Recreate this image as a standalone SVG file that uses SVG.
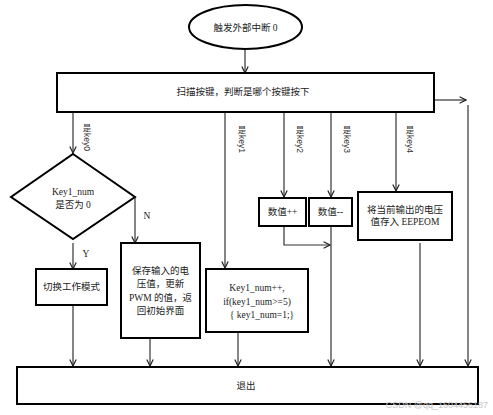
<svg xmlns="http://www.w3.org/2000/svg" width="493" height="415" viewBox="0 0 493 415">
<style>
.box{fill:#fff;stroke:#000;stroke-width:2}
.ln{fill:none;stroke:#333;stroke-width:1.2}
.t{font-family:"Liberation Serif","Noto Sans CJK SC",serif;font-size:9.5px;fill:#222;text-anchor:middle}
.lab{font-family:"Liberation Sans","Noto Sans CJK SC",sans-serif;font-size:8.5px;fill:#333}
.shi{text-anchor:middle}
</style>
<defs>
<marker id="arr" viewBox="0 0 10 10" refX="9" refY="5" markerWidth="8" markerHeight="8" orient="auto" markerUnits="userSpaceOnUse">
<path d="M1,1 L9,5 L1,9" fill="none" stroke="#222" stroke-width="1.5"/>
</marker>
</defs>
<rect width="493" height="415" fill="#fff"/>
<g id="connectors">
<line class="ln" x1="245" y1="49" x2="245" y2="73" marker-end="url(#arr)"/>
<line class="ln" x1="434" y1="100" x2="466" y2="100" marker-end="url(#arr)"/>
<line class="ln" x1="468" y1="105" x2="468" y2="366" marker-end="url(#arr)"/>
<line class="ln" x1="73" y1="112" x2="73" y2="153" marker-end="url(#arr)"/>
<polyline class="ln" points="135,197 135,243" marker-end="url(#arr)"/>
<line class="ln" x1="73" y1="243" x2="73" y2="269" marker-end="url(#arr)"/>
<line class="ln" x1="73" y1="305" x2="73" y2="366" marker-end="url(#arr)"/>
<line class="ln" x1="150" y1="338" x2="150" y2="366" marker-end="url(#arr)"/>
<line class="ln" x1="225" y1="112" x2="225" y2="268" marker-end="url(#arr)"/>
<line class="ln" x1="238" y1="332" x2="238" y2="366" marker-end="url(#arr)"/>
<line class="ln" x1="284" y1="112" x2="284" y2="197" marker-end="url(#arr)"/>
<polyline class="ln" points="284,226 284,245 330,245" marker-end="url(#arr)"/>
<line class="ln" x1="331" y1="112" x2="331" y2="197" marker-end="url(#arr)"/>
<line class="ln" x1="331" y1="226" x2="331" y2="366" marker-end="url(#arr)"/>
<line class="ln" x1="396" y1="112" x2="396" y2="191" marker-end="url(#arr)"/>
<line class="ln" x1="420" y1="243" x2="420" y2="366" marker-end="url(#arr)"/>
<g class="lab">
<text class="shi" x="87" y="131">是</text>
<text transform="translate(84,133) rotate(90)">key0</text>
<text class="shi" x="242" y="133">是</text>
<text transform="translate(239,135) rotate(90)">key1</text>
<text class="shi" x="300" y="133">是</text>
<text transform="translate(297,135) rotate(90)">key2</text>
<text class="shi" x="347" y="133">是</text>
<text transform="translate(344,135) rotate(90)">key3</text>
<text class="shi" x="410" y="133">是</text>
<text transform="translate(407,135) rotate(90)">key4</text>
</g>
<text class="t" x="147" y="219">N</text>
<text class="t" x="86" y="257">Y</text>
</g>
<g id="start">
<ellipse class="box" cx="245.5" cy="27" rx="56.5" ry="22"/>
<text class="t" x="245.5" y="31">触发外部中断 0</text>
</g>
<g id="scan">
<rect class="box" x="57" y="73" width="377" height="39"/>
<text class="t" x="243" y="95">扫描按键，判断是哪个按键按下</text>
</g>
<g id="decision">
<polygon class="box" points="73,154 135,197 73,239 11,197"/>
<text class="t" x="73" y="195">Key1_num</text>
<text class="t" x="73" y="208">是否为 0</text>
</g>
<g id="switchmode">
<rect class="box" x="36" y="269" width="71" height="36"/>
<text class="t" x="71.5" y="290">切换工作模式</text>
</g>
<g id="save">
<rect class="box" x="121" y="243" width="79" height="95"/>
<text class="t" x="160.5" y="274">保存输入的电</text>
<text class="t" x="160.5" y="287">压值，更新</text>
<text class="t" x="160.5" y="301">PWM 的值，返</text>
<text class="t" x="160.5" y="314">回初始界面</text>
</g>
<g id="key1box">
<rect class="box" x="206" y="269" width="102" height="63"/>
<text class="t" x="257" y="291">Key1_num++,</text>
<text class="t" x="257" y="305">if(key1_num&gt;=5)</text>
<text class="t" x="262" y="318">{ key1_num=1;}</text>
</g>
<g id="inc">
<rect class="box" x="259" y="198" width="47" height="28"/>
<text class="t" x="282.5" y="215">数值++</text>
</g>
<g id="dec">
<rect class="box" x="309" y="198" width="43" height="28"/>
<text class="t" x="330.5" y="215">数值--</text>
</g>
<g id="store">
<rect class="box" x="358" y="192" width="94" height="48"/>
<text class="t" x="405" y="213">将当前输出的电压</text>
<text class="t" x="405" y="225">值存入 EEPEOM</text>
</g>
<g id="exit">
<rect class="box" x="17" y="367" width="461" height="37"/>
<text class="t" x="246" y="389">退出</text>
</g>
<text x="488" y="408" style="font-family:'Liberation Sans',sans-serif;font-size:9px;fill:#c8c8c8;text-anchor:end">CSDN @qq_1604456187</text>
</svg>
